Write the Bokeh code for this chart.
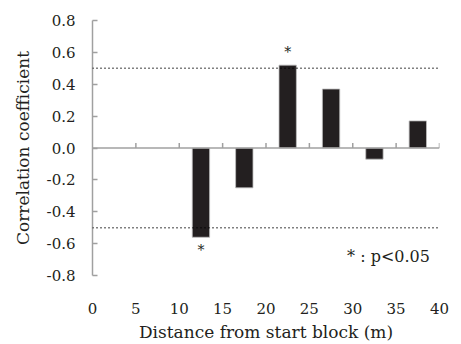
from bokeh.plotting import figure
from bokeh.models import Range1d, FixedTicker, Span, ColumnDataSource
from bokeh.core.properties import value
from bokeh.embed import file_html
from bokeh.resources import INLINE

# Data
distance = [12.5, 17.5, 22.5, 27.5, 32.5, 37.5]
corr = [-0.56, -0.25, 0.52, 0.37, -0.07, 0.17]
significant = [True, False, True, False, False, False]
x_ticks = [0, 5, 10, 15, 20, 25, 30, 35, 40]
y_ticks = [-0.8, -0.6, -0.4, -0.2, 0.0, 0.2, 0.4, 0.6, 0.8]
threshold = 0.5
note = "* : p<0.05"

FONT = "DejaVu Serif"
TXT = "#231f20"
AX = "#a0a0a0"

p = figure(width=452, height=341, output_backend="svg", toolbar_location=None,
           x_range=Range1d(0, 40), y_range=Range1d(-0.8, 0.8))
p.frame_width = 347
p.frame_height = 255
p.min_border_left = 92
p.min_border_right = 13
p.min_border_top = 20
p.min_border_bottom = 66
p.outline_line_color = None
p.xgrid.grid_line_color = None
p.ygrid.grid_line_color = None
p.background_fill_color = "white"

# y axis
ya = p.yaxis[0]
ya.ticker = FixedTicker(ticks=y_ticks)
ya.major_label_overrides = {t: f"{t:.1f}" for t in y_ticks}
ya.axis_line_color = AX
ya.axis_line_width = 1.5
ya.major_tick_line_color = AX
ya.major_tick_line_width = 1.5
ya.major_tick_in = 5
ya.major_tick_out = 0
ya.minor_tick_line_color = None
ya.major_label_standoff = 17
ya.major_label_text_font = FONT
ya.major_label_text_font_size = "15px"
ya.major_label_text_color = TXT
ya.axis_label = "Correlation coefficient"
ya.axis_label_text_font = FONT
ya.axis_label_text_font_size = "17px"
ya.axis_label_text_font_style = "normal"
ya.axis_label_text_color = TXT
ya.axis_label_standoff = 11

# x axis (labels only at the bottom)
xa = p.xaxis[0]
xa.ticker = FixedTicker(ticks=x_ticks)
xa.axis_line_color = None
xa.major_tick_line_color = None
xa.minor_tick_line_color = None
xa.major_tick_in = 0
xa.major_tick_out = 0
xa.major_label_standoff = 27
xa.major_label_text_font = FONT
xa.major_label_text_font_size = "15px"
xa.major_label_text_color = TXT
xa.axis_label = "Distance from start block (m)"
xa.axis_label_text_font = FONT
xa.axis_label_text_font_size = "17px"
xa.axis_label_text_font_style = "normal"
xa.axis_label_text_color = TXT
xa.axis_label_standoff = 5

# dotted threshold lines
for loc in (threshold, -threshold):
    p.add_layout(Span(location=loc, dimension="width", line_color="black",
                      line_width=1.5, line_dash="1 3"))

# bars
src = ColumnDataSource(dict(x=distance, top=corr))
p.vbar(x="x", top="top", bottom=0, width=2.0, source=src,
       fill_color="#231f20", line_color="#bdbdbd", line_width=0.8)

# zero line with upward ticks
p.segment(x0=[min(x_ticks)], y0=[0], x1=[max(x_ticks)], y1=[0],
          line_color=AX, line_width=1.5)
tk = [t for t in x_ticks if t > 0]
p.segment(x0=tk, y0=[0] * len(tk), x1=tk, y1=[0.032] * len(tk),
          line_color=AX, line_width=1.5)

# significance asterisks
sx = [d for d, s in zip(distance, significant) if s]
sy = [c + (0.08 if c > 0 else -0.08) for c, s in zip(corr, significant) if s]
p.text(x=sx, y=sy, text=["*"] * len(sx), text_align="center",
       text_baseline="middle", text_font=value(FONT), text_font_size="14px",
       text_color=TXT)

# note
p.text(x=[38.9], y=[-0.68], text=[note], text_align="right",
       text_baseline="middle", text_font=value(FONT), text_font_size="16px",
       text_color=TXT)

open("out.html", "w").write(file_html(p, INLINE))
